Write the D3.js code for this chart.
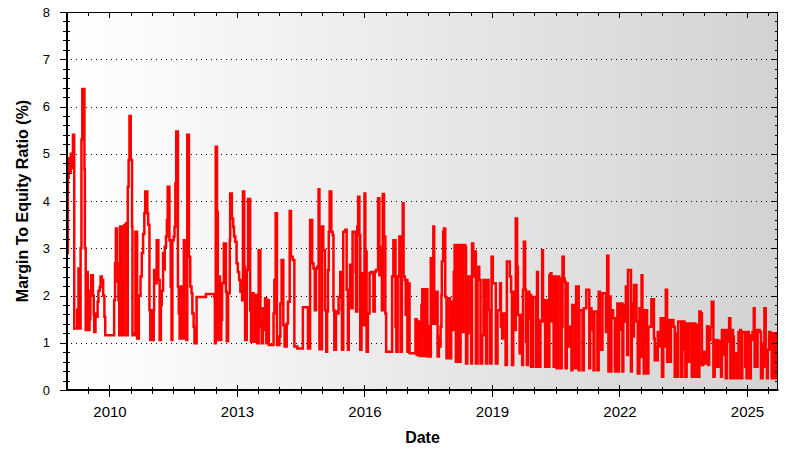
<!DOCTYPE html>
<html><head><meta charset="utf-8">
<script src="https://cdn.jsdelivr.net/npm/d3@7"></script>
<style>body{margin:0;background:#fff}svg{display:block}</style>
</head><body><svg id="c" width="812" height="462"></svg>
<script>
// ---- data (decimal year, margin-to-equity ratio %) ----
const yearsA = [
2009.00,2009.02,2009.04,2009.06,2009.09,2009.11,2009.13,2009.14,2009.17,2009.24,
2009.26,2009.27,2009.31,2009.32,2009.34,2009.36,2009.41,2009.42,2009.44,2009.47,
2009.49,2009.53,2009.55,2009.57,2009.61,2009.63,2009.64,2009.67,2009.70,2009.72,
2009.74,2009.77,2009.79,2009.82,2009.85,2009.88,2009.90,2010.11,2010.13,2010.15,
2010.18,2010.19,2010.21,2010.23,2010.25,2010.29,2010.31,2010.33,2010.35,2010.39,
2010.41,2010.43,2010.45,2010.47,2010.50,2010.53,2010.54,2010.59,2010.61,2010.65,
2010.69,2010.73,2010.76,2010.79,2010.82,2010.84,2010.89,2010.91,2010.94,2010.96,
2010.99,2011.01,2011.04,2011.05,2011.08,2011.11,2011.15,2011.18,2011.21,2011.23,
2011.26,2011.29,2011.30,2011.33,2011.35,2011.37,2011.41,2011.44,2011.46,2011.48,
2011.51,2011.53,2011.55,2011.57,2011.61,2011.63,2011.65,2011.67,2011.72,2011.75,
2011.81,2011.83,2011.87,2011.90,2011.93,2011.95,2011.98,2012.00,2012.05,2012.27,
2012.46,2012.48,2012.50,2012.53,2012.55,2012.57,2012.60,2012.63,2012.65,2012.69,
2012.74,2012.76,2012.79,2012.83,2012.84,2012.88,2012.91,2012.93,2012.96,2012.99,
2013.02,2013.05,2013.08,2013.12,2013.14];
const ratiosA = [
2.9,4.5,4.9,4.6,5.0,4.7,5.0,5.4,1.3,1.7,
1.3,2.57,1.3,3.0,5.3,6.37,4.67,3.0,1.27,2.5,
1.27,1.5,2.1,2.43,2.0,1.6,1.23,1.62,1.55,1.87,
2.1,2.18,2.4,2.33,2.0,1.55,1.16,1.9,2.68,3.42,
2.68,2.29,1.9,1.16,3.46,1.16,2.3,1.16,3.49,3.53,
1.16,4.3,4.87,5.8,4.87,3.46,1.16,1.2,3.35,1.09,
2.0,2.4,2.9,3.3,3.74,4.2,3.74,3.5,1.69,1.06,
1.69,1.06,1.69,2.54,2.26,3.17,2.33,1.06,1.8,2.1,
2.9,2.55,3.03,3.25,3.6,4.3,3.17,2.19,1.06,3.17,
3.25,3.45,4.37,5.47,2.19,1.62,1.09,2.19,1.09,3.17,
1.06,5.4,2.82,2.19,2.05,1.62,1.34,0.99,1.97,2.03,
1.97,0.99,5.15,3.77,1.06,2.4,1.06,1.48,2.26,3.1,
2.08,1.03,2.05,3.17,4.16,3.63,3.45,3.25,3.14,2.68,
2.5,2.33,2.08,1.9,4.2];

const yearsB = [
2013.17,2013.19,2013.23,2013.26,2013.31,2013.33,2013.36,2013.39,2013.42,2013.45,
2013.48,2013.51,2013.55,2013.58,2013.61,2013.64,2013.66,2013.69,2013.73,2013.75,
2013.86,2013.88,2013.91,2013.94,2014.00,2014.02,2014.05,2014.09,2014.12,2014.17,
2014.20,2014.24,2014.27,2014.31,2014.35,2014.42,2014.55,2014.67,2014.72,2014.77,
2014.80,2014.83,2014.86,2014.89,2014.92,2014.94,2015.00,2015.03,2015.07,2015.10,
2015.12,2015.14,2015.16,2015.18,2015.22,2015.25,2015.27,2015.29,2015.33,2015.36,
2015.39,2015.43,2015.46,2015.47,2015.50,2015.55,2015.58,2015.61,2015.63,2015.66,
2015.69,2015.72,2015.79,2015.80,2015.83,2015.85,2015.88,2015.90,2015.93,2015.96,
2015.97,2016.00,2016.02,2016.05,2016.08,2016.12,2016.15,2016.21,2016.24,2016.27,
2016.32,2016.35,2016.37,2016.41,2016.43,2016.46,2016.49,2016.51,2016.65,2016.68,
2016.73,2016.75,2016.78,2016.82,2016.85,2016.88,2016.90,2016.92,2016.95,2016.97,
2016.99,2017.01,2017.03,2017.06,2017.20,2017.23];
const ratiosB = [
2.61,1.06,2.54,4.04,1.69,1.02,2.05,2.01,1.02,2.01,
0.99,2.96,1.34,0.99,1.73,1.27,1.94,0.99,1.9,0.95,
1.62,2.33,3.74,0.95,1.13,1.83,2.75,1.37,0.92,1.41,
1.87,3.79,2.82,2.75,0.92,0.88,1.75,0.88,3.6,2.68,
2.57,1.69,2.57,2.61,4.25,0.86,3.46,2.96,1.69,0.81,
1.66,2.54,3.35,4.2,3.35,3.28,1.69,0.85,1.66,1.62,
1.97,2.5,1.69,0.85,3.35,3.39,2.12,0.85,1.76,2.65,
1.73,3.35,2.5,1.66,3.46,4.09,3.28,0.85,2.47,2.05,
1.37,4.16,2.93,0.81,1.62,2.47,2.5,1.66,2.5,2.54,
4.06,2.43,3.03,1.69,4.15,3.25,1.62,0.81,2.4,3.17,
1.34,0.81,2.4,3.25,0.81,2.4,3.95,2.4,2.33,1.59,
2.33,0.81,2.26,0.78,1.5,0.74];

const yearsC = [
2017.26,2017.30,2017.34,2017.36,2017.39,2017.40,2017.43,2017.48,2017.51,2017.53,
2017.56,2017.61,2017.62,2017.64,2017.67,2017.69,2017.72,2017.75,2017.77,2017.79,
2017.81,2017.82,2017.85,2017.87,2017.90,2017.93,2017.95,2018.01,2018.04,2018.08,
2018.10,2018.12,2018.15,2018.18,2018.21,2018.23,2018.26,2018.28,2018.30,2018.33,
2018.37,2018.39,2018.42,2018.45,2018.51,2018.53,2018.56,2018.59,2018.62,2018.66,
2018.68,2018.70,2018.73,2018.77,2018.80,2018.83,2018.86,2018.89,2018.92,2018.96,
2018.99,2019.02,2019.09,2019.13,2019.19,2019.21,2019.24,2019.26,2019.32,2019.35,
2019.42,2019.45,2019.47,2019.50,2019.53,2019.56,2019.59,2019.61,2019.65,2019.67,
2019.71,2019.73,2019.75,2019.78,2019.80,2019.82,2019.85,2019.88,2019.90,2019.92,
2019.96,2020.03,2020.06,2020.08,2020.11,2020.14,2020.18,2020.20,2020.22,2020.25,
2020.27,2020.32,2020.35,2020.38,2020.40,2020.43,2020.45,2020.47,2020.50,2020.52,
2020.55,2020.58,2020.61,2020.64,2020.66,2020.69,2020.71,2020.73,2020.76,2020.78,
2020.80,2020.83,2020.87,2020.89,2020.95,2020.98,2021.04,2021.06,2021.13,2021.16,
2021.22,2021.29,2021.31,2021.34,2021.37,2021.39,2021.41,2021.48];
const ratiosC = [
1.45,0.72,1.8,2.13,1.2,0.72,2.13,0.71,1.35,0.71,
2.79,1.4,3.46,2.08,1.4,2.08,0.71,1.13,0.92,1.34,
2.01,2.72,3.35,3.42,1.97,0.67,1.94,0.67,1.87,1.27,
2.5,3.07,0.6,3.07,2.26,0.6,3.07,1.83,1.23,3.07,
3.03,0.56,1.2,2.4,0.56,3.1,2.4,2.93,0.56,2.33,
2.61,2.33,0.56,1.16,2.33,1.16,0.56,2.33,1.69,0.56,
2.82,2.26,0.56,1.69,2.26,1.34,1.09,1.62,0.53,2.72,
2.4,2.08,0.53,2.08,1.27,3.63,2.61,1.59,0.78,1.59,
0.53,2.12,3.14,2.12,1.02,0.53,2.08,1.52,2.01,0.49,
1.97,0.49,2.5,1.48,0.49,1.45,2.96,1.9,1.45,0.49,
1.9,0.49,2.43,2.47,1.45,2.4,0.49,1.9,2.4,0.46,
2.4,2.36,0.46,1.34,2.82,2.36,2.29,0.46,2.26,1.13,
0.92,1.34,0.42,1.8,0.46,2.19,0.42,1.69,0.42,1.73,
2.12,0.46,1.73,1.66,1.27,0.42,1.66,0.42];

const yearsD = [
2021.51,2021.54,2021.57,2021.60,2021.68,2021.71,2021.74,2021.76,2021.79,2021.81,
2021.85,2021.89,2021.92,2021.95,2021.97,2021.99,2022.03,2022.04,2022.07,2022.09,
2022.12,2022.15,2022.18,2022.20,2022.27,2022.29,2022.32,2022.34,2022.40,2022.43,
2022.47,2022.50,2022.52,2022.54,2022.57,2022.59,2022.62,2022.65,2022.68,2022.75,
2022.81,2022.83,2022.86,2022.88,2022.90,2022.94,2022.97,2023.00,2023.03,2023.06,
2023.09,2023.12,2023.15,2023.19,2023.21,2023.27,2023.30,2023.33,2023.36,2023.38,
2023.45,2023.48,2023.50,2023.53,2023.55,2023.58,2023.61,2023.64,2023.70,2023.73,
2023.78,2023.81,2023.84,2023.88,2023.91,2023.94,2023.97,2024.00,2024.03,2024.06,
2024.09,2024.11,2024.14,2024.17,2024.21,2024.24,2024.30,2024.33,2024.39,2024.41,
2024.44,2024.47,2024.50,2024.53,2024.55,2024.58,2024.61,2024.64,2024.67,2024.69,
2024.71,2024.77,2024.80,2024.84,2024.86,2024.89,2024.96,2024.99,2025.01,2025.04,
2025.07,2025.09,2025.13,2025.16,2025.18,2025.21,2025.23,2025.25,2025.28,2025.30,
2025.33,2025.37,2025.39,2025.41,2025.44,2025.47,2025.49,2025.52,2025.55,2025.58,
2025.61,2025.64,2025.66,2025.69,2025.73];
const ratiosD = [
2.08,1.27,0.85,2.05,1.23,2.84,0.39,1.98,0.39,1.69,
1.52,0.39,1.52,1.83,0.39,1.83,1.27,1.83,0.39,1.8,
1.45,2.19,0.74,2.54,0.39,1.83,1.13,2.22,1.45,0.35,
1.73,0.7,2.43,1.69,0.35,1.13,1.69,0.35,1.34,1.92,
1.09,0.63,0.92,0.63,1.23,0.92,1.52,0.28,1.52,0.92,
2.12,0.6,1.48,0.6,1.48,1.34,0.28,1.2,0.28,1.45,
0.28,0.85,1.45,1.41,0.28,1.41,0.6,1.41,0.28,1.41,
0.28,1.38,0.28,1.66,1.62,0.53,0.81,0.56,0.81,1.35,
0.53,1.06,1.33,1.87,0.28,1.06,0.49,1.04,0.28,1.27,
0.74,1.27,0.25,1.27,1.02,1.52,0.25,1.27,1.13,0.25,
0.78,0.25,1.23,1.27,0.25,1.23,0.49,0.25,1.23,1.16,
0.25,1.06,1.23,1.73,0.49,1.27,0.49,1.23,1.27,1.23,
0.25,0.99,0.49,1.73,0.74,0.25,0.85,1.23,1.2,0.25,
1.2,1.16,0.25,1.2,1.2];

const yTickValues = [0,1,2,3,4,5,6,7,8];
const xTickYears = [2010,2013,2016,2019,2022,2025];
const xTitle = "Date";
const yTitle = "Margin To Equity Ratio (%)";

// ---- build ----
const years = [].concat(yearsA, yearsB, yearsC, yearsD);
const ratios = [].concat(ratiosA, ratiosB, ratiosC, ratiosD);
const data = years.map((yr, i) => ({x: yr, v: ratios[i]}));

const L = 67, R = 778, T = 12, B = 390;
const FONT = "Arial, 'Liberation Sans', sans-serif";
const svg = d3.select("#c");

const x = d3.scaleLinear().domain([2009, 2025.73]).range([L, R]);
const y = d3.scaleLinear().domain([0, 8]).range([B, T]);

const defs = svg.append("defs");
const g = defs.append("linearGradient").attr("id", "bg").attr("x1", 0).attr("x2", 1).attr("y1", 0).attr("y2", 0);
g.append("stop").attr("offset", "0%").attr("stop-color", "#ffffff");
g.append("stop").attr("offset", "100%").attr("stop-color", "#d2d2d2");
defs.append("clipPath").attr("id", "clip").append("rect")
  .attr("x", L).attr("y", T).attr("width", R - L).attr("height", B - T);

svg.append("rect").attr("x", L).attr("y", T).attr("width", R - L).attr("height", B - T)
  .attr("fill", "url(#bg)");

// grid
svg.append("g").selectAll("line").data(yTickValues.filter(d => d > 0 && d < 8)).join("line")
  .attr("x1", L + 4).attr("x2", R).attr("y1", d => Math.round(y(d)) + 0.5).attr("y2", d => Math.round(y(d)) + 0.5)
  .attr("stroke", "#000").attr("stroke-width", 1).attr("stroke-dasharray", "1,4");

// line
const line = d3.line().x(d => x(d.x)).y(d => y(d.v)).curve(d3.curveStepAfter);
svg.append("path").datum(data).attr("clip-path", "url(#clip)")
  .attr("fill", "none").attr("stroke", "#ff0000").attr("stroke-width", 2.5)
  .attr("stroke-linejoin", "miter").attr("d", line);

// frame
svg.append("rect").attr("x", L + 0.5).attr("y", T + 0.5).attr("width", R - L - 1).attr("height", B - T - 1)
  .attr("fill", "none").attr("stroke", "#000").attr("stroke-width", 1);
svg.append("line").attr("x1", L).attr("x2", L).attr("y1", T).attr("y2", B + 1).attr("stroke", "#000").attr("stroke-width", 2);
svg.append("line").attr("x1", L - 1).attr("x2", R + 0.5).attr("y1", B).attr("y2", B).attr("stroke", "#000").attr("stroke-width", 2);

const tk = svg.append("g").attr("stroke", "#000").attr("stroke-width", 1);
// y minor ticks
const yMinor = d3.range(0, 8.001, 0.2).filter(d => Math.abs(d - Math.round(d)) > 0.01);
yMinor.forEach(d => {
  const yy = Math.round(y(d)) + 0.5;
  tk.append("line").attr("x1", L - 4).attr("x2", L + 3).attr("y1", yy).attr("y2", yy);
  tk.append("line").attr("x1", R - 3).attr("x2", R).attr("y1", yy).attr("y2", yy);
});
yTickValues.forEach(d => {
  const yy = Math.round(y(d)) + 0.5;
  tk.append("line").attr("x1", L - 7).attr("x2", L).attr("y1", yy).attr("y2", yy);
  tk.append("line").attr("x1", R - 6).attr("x2", R).attr("y1", yy).attr("y2", yy);
});
// x ticks
const xHalf = d3.range(2009.5, 2025.74, 0.5).filter(d => !xTickYears.includes(d));
xHalf.forEach(d => {
  const xx = Math.round(x(d)) + 0.5;
  tk.append("line").attr("x1", xx).attr("x2", xx).attr("y1", B - 3).attr("y2", B + 4);
  tk.append("line").attr("x1", xx).attr("x2", xx).attr("y1", T).attr("y2", T + 4);
});
xTickYears.forEach(d => {
  const xx = Math.round(x(d)) + 0.5;
  tk.append("line").attr("x1", xx).attr("x2", xx).attr("y1", B - 5).attr("y2", B + 7);
  tk.append("line").attr("x1", xx).attr("x2", xx).attr("y1", T).attr("y2", T + 6);
});

// labels via axes
const yAxis = d3.axisLeft(y).tickValues(yTickValues).tickSize(0).tickPadding(17).tickFormat(d3.format("d"));
const ya = svg.append("g").attr("transform", `translate(${L},0)`).call(yAxis);
ya.select(".domain").remove();
ya.selectAll("text").attr("font-family", FONT).attr("font-size", 13).attr("fill", "#000");

const xAxis = d3.axisBottom(x).tickValues(xTickYears).tickSize(0).tickPadding(16).tickFormat(d3.format("d"));
const xa = svg.append("g").attr("transform", `translate(0,${B})`).call(xAxis);
xa.select(".domain").remove();
xa.selectAll("text").attr("font-family", FONT).attr("font-size", 15).attr("fill", "#000");

svg.append("text").attr("x", (L + R) / 2).attr("y", 443).attr("text-anchor", "middle")
  .attr("font-family", FONT).attr("font-size", 16).attr("font-weight", "bold").text(xTitle);
svg.append("text").attr("transform", `translate(27.5,${(T + B) / 2}) rotate(-90)`).attr("text-anchor", "middle")
  .attr("font-family", FONT).attr("font-size", 16).attr("font-weight", "bold").text(yTitle);
</script>
</body></html>
